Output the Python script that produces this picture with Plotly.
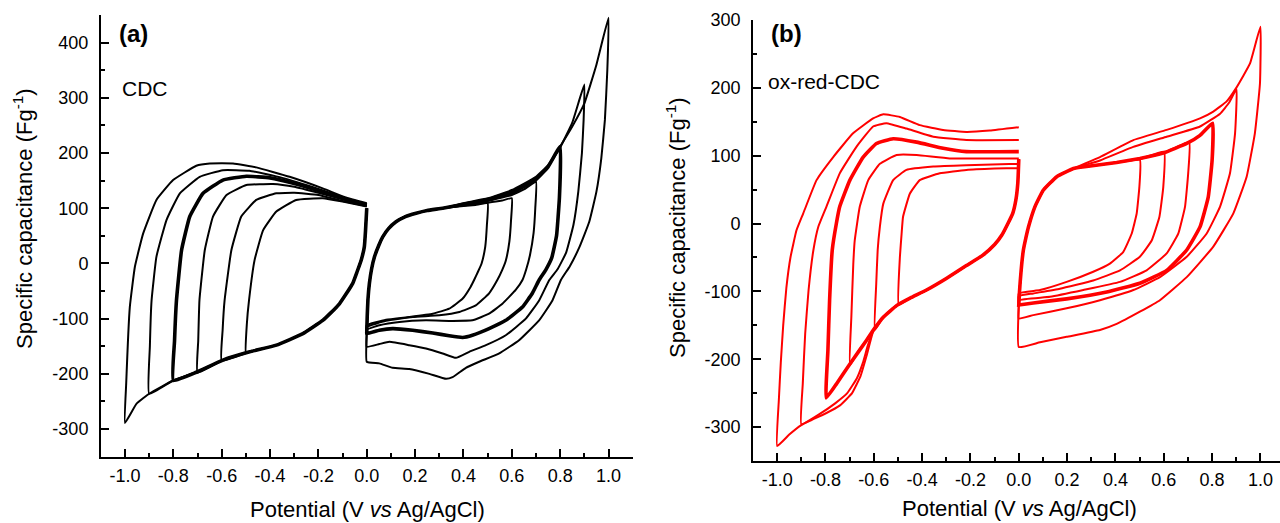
import plotly.graph_objects as go

# ================= Panel (a): CDC (black) =================
# common cathodic branch of the negative-window scans (0 V -> -1.0 V)
A_NEG_LOWER_X = [0.0, -0.005, -0.010, -0.023, -0.040, -0.058, -0.085, -0.113, -0.150, -0.182,
                 -0.264, -0.374, -0.484, -0.595, -0.705, -0.801, -0.897, -0.952, -1.0]
A_NEG_LOWER_Y = [100, 60, 30, 6, -15, -36, -55, -73, -90, -103,
                 -127, -148, -160, -175, -197, -212, -235, -254, -289]

# return (anodic) branches from each vertex back to 0 V
A_NEG05_X = [-0.5, -0.496, -0.487, -0.464, -0.429, -0.374, -0.292, -0.182, -0.1, 0.0]
A_NEG05_Y = [-161, -110, -67, 6, 60, 94, 115, 118, 112, 103]
A_NEG06_X = [-0.6, -0.596, -0.588, -0.56, -0.519, -0.457, -0.374, -0.3, -0.2, -0.1, 0.0]
A_NEG06_Y = [-176, -120, -67, 24, 85, 115, 127, 128, 124, 113, 104]
A_NEG07_X = [-0.7, -0.697, -0.692, -0.67, -0.636, -0.58, -0.498, -0.388, -0.3, -0.2, -0.1, 0.0]
A_NEG07_Y = [-198, -140, -67, 24, 85, 124, 142, 144, 139, 128, 116, 105]
A_NEG08_X = [-0.8, -0.795, -0.787, -0.766, -0.732, -0.677, -0.595, -0.498, -0.4, -0.3, -0.2, -0.1, 0.0]
A_NEG08_Y = [-212, -140, -67, 24, 85, 127, 151, 158, 155, 145, 132, 118, 106]
A_NEG09_X = [-0.9, -0.897, -0.89, -0.87, -0.828, -0.773, -0.691, -0.595, -0.485, -0.35, -0.2, -0.1, 0.0]
A_NEG09_Y = [-236, -150, -67, 12, 79, 127, 157, 169, 168, 155, 135, 120, 107]
A_NEG10_X = [-1.0, -0.995, -0.98, -0.959, -0.925, -0.87, -0.801, -0.705, -0.649, -0.553, -0.457,
             -0.319, -0.182, -0.09, 0.0]
A_NEG10_Y = [-289, -218, -79, -6, 54, 115, 151, 177, 181, 181, 174, 157, 136, 120, 109]

# common anodic start of the positive-window scans
A_POS_UPPER_X = [0.0, 0.002, 0.005, 0.011, 0.02, 0.032, 0.05, 0.066, 0.09, 0.121, 0.16, 0.204, 0.25, 0.314]
A_POS_UPPER_Y = [-125, -95, -65, -36, -10, 12, 33, 48, 63, 75.5, 85, 91, 96, 100]

# rest of each positive loop: top to vertex, then return branch to 0 V
A_POS05_X = [0.4, 0.45, 0.5, 0.497, 0.49, 0.475, 0.46, 0.444, 0.43, 0.396, 0.341, 0.273, 0.176, 0.08, 0.0]
A_POS05_Y = [104, 106, 109, 70, 30, 0, -15, -30, -42, -64, -82, -91, -97, -102, -112]
A_POS06_X = [0.4, 0.5, 0.56, 0.6, 0.597, 0.59, 0.575, 0.56, 0.54, 0.506, 0.451, 0.383, 0.3, 0.19, 0.08, 0.0]
A_POS06_Y = [105, 110, 114, 118, 80, 40, 5, -12, -30, -54, -76, -88, -94, -97, -104, -115]
A_POS07_X = [0.4, 0.5, 0.6, 0.65, 0.7, 0.697, 0.69, 0.675, 0.66, 0.644, 0.616, 0.561, 0.506, 0.437,
             0.355, 0.245, 0.135, 0.052, 0.0]
A_POS07_Y = [106, 113, 124, 134, 148, 100, 55, 15, -10, -30, -48, -73, -91, -103,
             -104, -103, -106, -112, -120]
A_POS08_X = [0.4, 0.5, 0.6, 0.7, 0.75, 0.8, 0.797, 0.785, 0.765, 0.74, 0.713, 0.685, 0.644, 0.575,
             0.506, 0.437, 0.396, 0.341, 0.273, 0.19, 0.107, 0.052, 0.0]
A_POS08_Y = [107, 115, 128, 152, 175, 212, 120, 50, 10, -12, -30, -54, -79, -103,
             -118, -130, -134, -131, -126, -121, -118, -121, -127]
A_POS09_X = [0.4, 0.5, 0.6, 0.7, 0.75, 0.8, 0.85, 0.9, 0.897, 0.89, 0.875, 0.855, 0.825, 0.79, 0.755,
             0.713, 0.658, 0.575, 0.493, 0.424, 0.369, 0.314, 0.245, 0.176, 0.094, 0.052, 0.0]
A_POS09_Y = [108, 117, 131, 155, 176, 210, 255, 324, 260, 200, 130, 70, 20, -10, -30,
             -67, -100, -130, -148, -160, -171, -163, -154, -148, -142, -146, -151]
A_POS10_X = [0.4, 0.5, 0.6, 0.7, 0.75, 0.8, 0.85, 0.9, 0.95, 1.0, 0.995, 0.985, 0.97, 0.95, 0.92, 0.88,
             0.84, 0.803, 0.768, 0.713, 0.63, 0.548, 0.465, 0.41, 0.355, 0.328, 0.259, 0.176, 0.107,
             0.052, 0.0]
A_POS10_Y = [109, 118, 133, 157, 178, 212, 248, 290, 360, 445, 350, 260, 190, 130, 75, 30,
             -5, -30, -67, -103, -139, -163, -178, -189, -206, -209, -200, -191, -189,
             -181, -178]

# ================= Panel (b): ox-red-CDC (red) =================
B_NEG_LOWER_X = [0.0, -0.004, -0.012, -0.025, -0.045, -0.07, -0.1, -0.15, -0.217, -0.3, -0.382, -0.45]
B_NEG_LOWER_Y = [95, 60, 35, 15, 0, -17, -31, -47, -62, -81, -98, -110]

B_NEG05_X = [-0.497, -0.492, -0.485, -0.479, -0.451, -0.41, -0.327, -0.217, -0.1, 0.0]
B_NEG05_Y = [-120, -49, -15, 10, 44, 64, 74, 79, 81, 82]
B_NEG06_X = [-0.506, -0.561, -0.596, -0.59, -0.584, -0.575, -0.561, -0.52, -0.465, -0.354, -0.217, 0.0]
B_NEG06_Y = [-121, -138, -157, -89, -39, -5, 29, 64, 79, 84, 86, 88]
B_NEG07_X = [-0.506, -0.561, -0.6, -0.63, -0.664, -0.699, -0.693, -0.685, -0.679, -0.658, -0.623,
             -0.575, -0.506, -0.423, -0.286, 0.0]
B_NEG07_Y = [-121, -138, -156, -172, -188, -209, -138, -60, -25, 25, 64, 88, 101, 101, 96, 96]
B_NEG08_X = [-0.506, -0.561, -0.6, -0.63, -0.699, -0.754, -0.797, -0.79, -0.783, -0.772, -0.755,
             -0.741, -0.699, -0.644, -0.589, -0.52, -0.423, -0.313, -0.217, 0.0]
B_NEG08_Y = [-121, -138, -156, -172, -207, -236, -257, -187, -113, -39, 0,
             25, 64, 98, 118, 125, 120, 111, 106, 106]
B_NEG09_X = [-0.506, -0.561, -0.6, -0.625, -0.645, -0.67, -0.71, -0.76, -0.83, -0.9, -0.894, -0.884,
             -0.87, -0.85, -0.83, -0.796, -0.741, -0.672, -0.603, -0.548, -0.465, -0.354, -0.217, 0.0]
B_NEG09_Y = [-121, -138, -156, -180, -205, -228, -250, -265, -282, -296, -236, -162,
             -98, -39, -5, 25, 74, 113, 143, 148, 140, 128, 123, 123]
B_NEG10_X = [-0.506, -0.561, -0.6, -0.63, -0.655, -0.69, -0.74, -0.8, -0.86, -0.9, -0.95, -1.0,
             -0.993, -0.985, -0.975, -0.962, -0.945, -0.92, -0.892, -0.837, -0.768, -0.686, -0.603,
             -0.561, -0.492, -0.41, -0.313, -0.217, -0.12, 0.0]
B_NEG10_Y = [-121, -138, -156, -195, -225, -250, -268, -280, -290, -297, -311, -328,
             -260, -205, -150, -95, -50, -10, 15, 64, 98, 133, 155,
             161, 157, 145, 138, 135, 137, 142]

B_POS_UPPER_X = [0.0, 0.003, 0.006, 0.012, 0.019, 0.03, 0.04, 0.067, 0.101, 0.157, 0.226]
B_POS_UPPER_Y = [-120, -100, -85, -60, -39, -20, -5, 25, 49, 69, 81]

B_POS05_X = [0.28, 0.405, 0.501, 0.499, 0.488, 0.467, 0.432, 0.377, 0.308, 0.198, 0.088, 0.0]
B_POS05_Y = [84, 90, 94, 54, 15, -15, -42, -59, -71, -86, -98, -103]
B_POS06_X = [0.28, 0.405, 0.501, 0.601, 0.598, 0.582, 0.55, 0.501, 0.419, 0.308, 0.17, 0.06, 0.0]
B_POS06_Y = [84, 90, 95, 106, 54, 10, -25, -49, -69, -84, -96, -103, -107]
B_POS07_X = [0.28, 0.405, 0.501, 0.598, 0.705, 0.701, 0.688, 0.66, 0.612, 0.529, 0.419, 0.267, 0.129, 0.0]
B_POS07_Y = [84, 90, 96, 104, 120, 74, 25, -15, -44, -69, -86, -98, -108, -113]
B_POS08_X = [0.28, 0.405, 0.501, 0.598, 0.695, 0.75, 0.802, 0.8, 0.784, 0.75, 0.695, 0.612, 0.501,
             0.364, 0.198, 0.06, 0.0]
B_POS08_Y = [84, 90, 96, 104, 118, 130, 148, 93, 39, -5, -39, -69, -88,
             -101, -111, -117, -120]
B_POS09_X = [0.336, 0.474, 0.612, 0.75, 0.833, 0.87, 0.901, 0.895, 0.874, 0.833, 0.777, 0.695, 0.584,
             0.474, 0.336, 0.198, 0.06, 0.0]
B_POS09_Y = [93, 113, 128, 143, 162, 178, 198, 133, 74, 25, -15, -49, -79,
             -98, -113, -125, -135, -140]
B_POS10_X = [0.336, 0.474, 0.612, 0.75, 0.805, 0.86, 0.9, 0.957, 1.0, 0.998, 0.977, 0.943, 0.888,
             0.805, 0.695, 0.584, 0.501, 0.405, 0.336, 0.198, 0.088, 0.0]
B_POS10_Y = [98, 123, 138, 155, 165, 180, 200, 236, 290, 206, 133, 69, 15,
             -34, -79, -113, -130, -148, -157, -167, -175, -182]

# ticks
X_TICKS = [-1.0, -0.8, -0.6, -0.4, -0.2, 0.0, 0.2, 0.4, 0.6, 0.8, 1.0]
X_TICKTEXT = ["-1.0", "-0.8", "-0.6", "-0.4", "-0.2", "0.0", "0.2", "0.4", "0.6", "0.8", "1.0"]
A_Y_TICKS = [-300, -200, -100, 0, 100, 200, 300, 400]
A_Y_TICKTEXT = ["-300", "-200", "-100", "0", "100", "200", "300", "400"]
B_Y_TICKS = [-300, -200, -100, 0, 100, 200, 300]
B_Y_TICKTEXT = ["-300", "-200", "-100", "0", "100", "200", "300"]

FONT = "Liberation Sans, Arial, sans-serif"
W, H = 1280, 523
THIN, BOLD = 2.0, 3.6

fig = go.Figure()


def add(x, y, color, width, axis):
    xa, ya = ("x", "y") if axis == 1 else ("x2", "y2")
    fig.add_trace(go.Scatter(x=x, y=y, mode="lines", xaxis=xa, yaxis=ya,
                             line=dict(color=color, width=width, shape="spline", smoothing=0.35),
                             hoverinfo="skip", showlegend=False))


def neg_loop(lx, ly, tx, ty, vertex):
    keep = [i for i, v in enumerate(lx) if v > vertex + 0.008]
    return [lx[i] for i in keep] + tx, [ly[i] for i in keep] + ty


# panel a
for tx, ty, w in [(A_NEG05_X, A_NEG05_Y, THIN), (A_NEG06_X, A_NEG06_Y, THIN), (A_NEG07_X, A_NEG07_Y, THIN),
                  (A_NEG09_X, A_NEG09_Y, THIN), (A_NEG10_X, A_NEG10_Y, THIN), (A_NEG08_X, A_NEG08_Y, BOLD)]:
    x, y = neg_loop(A_NEG_LOWER_X, A_NEG_LOWER_Y, tx, ty, tx[0])
    add(x, y, "black", w, 1)
for tx, ty, w in [(A_POS05_X, A_POS05_Y, THIN), (A_POS06_X, A_POS06_Y, THIN), (A_POS07_X, A_POS07_Y, THIN),
                  (A_POS09_X, A_POS09_Y, THIN), (A_POS10_X, A_POS10_Y, THIN), (A_POS08_X, A_POS08_Y, BOLD)]:
    add([tx[-1]] + A_POS_UPPER_X + tx, [ty[-1]] + A_POS_UPPER_Y + ty, "black", w, 1)

# panel b
RED = "#ff0000"
for tx, ty, w in [(B_NEG05_X, B_NEG05_Y, THIN), (B_NEG06_X, B_NEG06_Y, THIN), (B_NEG07_X, B_NEG07_Y, THIN),
                  (B_NEG09_X, B_NEG09_Y, THIN), (B_NEG10_X, B_NEG10_Y, THIN), (B_NEG08_X, B_NEG08_Y, BOLD)]:
    add(B_NEG_LOWER_X + tx, B_NEG_LOWER_Y + ty, RED, w, 2)
for tx, ty, w in [(B_POS05_X, B_POS05_Y, THIN), (B_POS06_X, B_POS06_Y, THIN), (B_POS07_X, B_POS07_Y, THIN),
                  (B_POS09_X, B_POS09_Y, THIN), (B_POS10_X, B_POS10_Y, THIN), (B_POS08_X, B_POS08_Y, BOLD)]:
    add([tx[-1]] + B_POS_UPPER_X + tx, [ty[-1]] + B_POS_UPPER_Y + ty, RED, w, 2)

axis_common = dict(showline=True, linecolor="black", linewidth=1.6, showgrid=False, zeroline=False,
                   ticks="inside", ticklen=8, tickwidth=1.5, tickcolor="black", automargin=False,
                   tickfont=dict(family=FONT, size=18, color="black"))
minor_x = dict(dtick=0.1, tick0=0, ticks="inside", ticklen=4, tickwidth=1.5, tickcolor="black")
minor_y = dict(dtick=50, tick0=0, ticks="inside", ticklen=4, tickwidth=1.5, tickcolor="black")

fig.update_layout(
    width=W, height=H, paper_bgcolor="white", plot_bgcolor="white",
    margin=dict(l=0, r=0, t=0, b=0, autoexpand=False),
    font=dict(family=FONT, color="black"),
    xaxis=dict(domain=[100.8 / W, 632.7 / W], range=[-1.1, 1.1], anchor="y",
               tickmode="array", tickvals=X_TICKS, ticktext=X_TICKTEXT, ticklabelstandoff=2,
               minor=minor_x, **axis_common),
    yaxis=dict(domain=[1 - 456.7 / H, 1 - 15 / H], range=[-350, 450], anchor="x",
               tickmode="array", tickvals=A_Y_TICKS, ticktext=A_Y_TICKTEXT, ticklabelstandoff=7,
               minor=minor_y, **axis_common),
    xaxis2=dict(domain=[753 / W, 1.0], range=[-1.1, 1.081], anchor="y2",
                tickmode="array", tickvals=X_TICKS, ticktext=X_TICKTEXT, ticklabelstandoff=2,
                minor=minor_x, **axis_common),
    yaxis2=dict(domain=[1 - 461 / H, 1 - 20 / H], range=[-350, 300], anchor="x2",
                tickmode="array", tickvals=B_Y_TICKS, ticktext=B_Y_TICKTEXT, ticklabelstandoff=7,
                minor=minor_y, **axis_common),
)

ann = []
def txt(text, px, py, size, angle=0, bold=False, xanchor="center"):
    ann.append(dict(text=("<b>%s</b>" % text) if bold else text, x=px / W, y=1 - py / H,
                    xref="paper", yref="paper", showarrow=False, textangle=angle,
                    xanchor=xanchor, yanchor="middle",
                    font=dict(family=FONT, size=size, color="black")))

txt("Specific capacitance (Fg<sup>-1</sup>)", 23, 219, 22, angle=-90)
txt("Specific capacitance (Fg<sup>-1</sup>)", 676, 228, 22, angle=-90)
txt("Potential (V <i>vs</i> Ag/AgCl)", 367, 509, 22)
txt("Potential (V <i>vs</i> Ag/AgCl)", 1019, 508, 22)
txt("(a)", 117, 33, 24, bold=True, xanchor="left")
txt("CDC", 120, 88, 21, xanchor="left")
txt("(b)", 769, 33, 24, bold=True, xanchor="left")
txt("ox-red-CDC", 766, 82, 21, xanchor="left")
fig.update_layout(annotations=ann)

fig.write_html("out.html", config={"displayModeBar": False},
               post_script="document.body.style.margin='0';document.body.style.overflow='hidden';")
